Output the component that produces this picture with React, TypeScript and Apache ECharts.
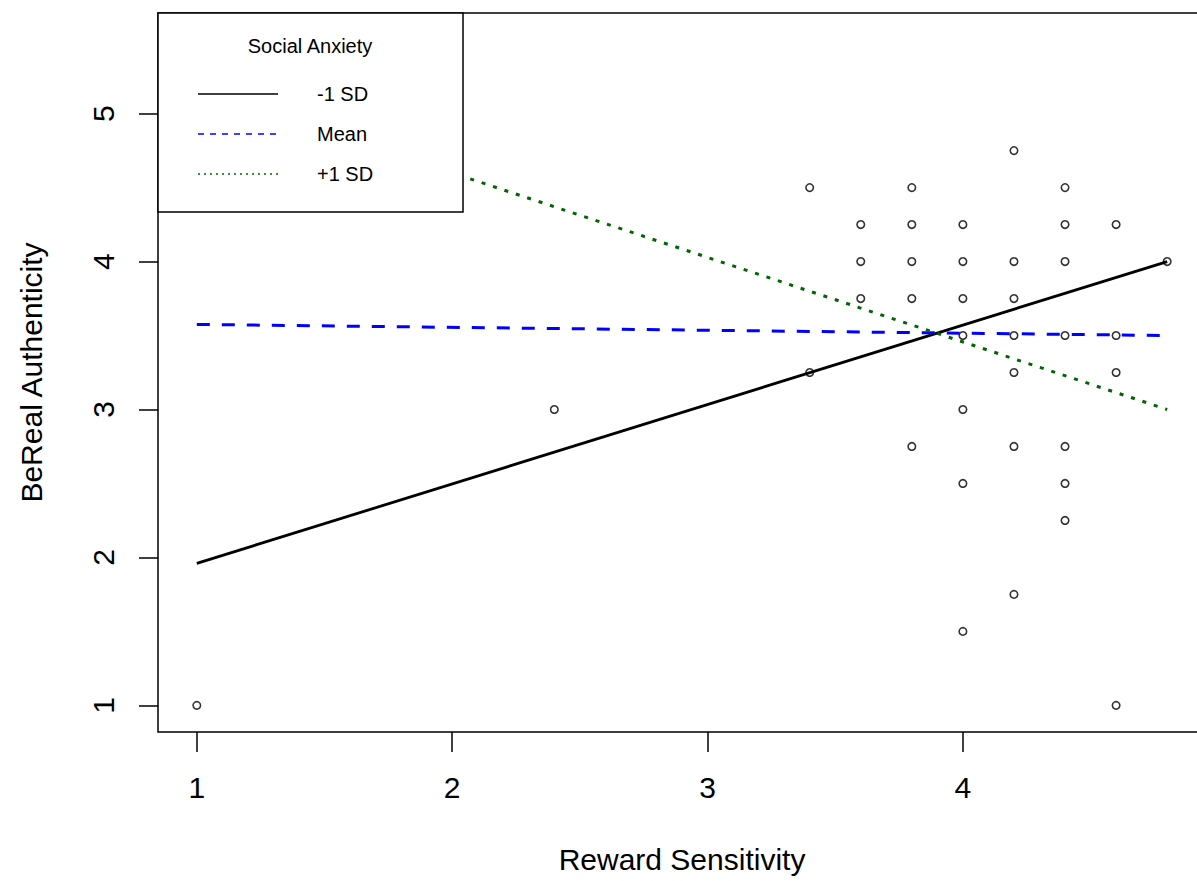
import React, { useEffect, useRef } from "react";
import * as echarts from "echarts";

const xTicks = [1, 2, 3, 4];
const yTicks = [1, 2, 3, 4, 5];

const rewardX = [1, 2.4, 3.4, 3.4, 3.6, 3.6, 3.6, 3.8, 3.8, 3.8, 3.8, 3.8, 4, 4, 4, 4, 4, 4, 4, 4.2, 4.2, 4.2, 4.2, 4.2, 4.2, 4.2, 4.4, 4.4, 4.4, 4.4, 4.4, 4.4, 4.4, 4.6, 4.6, 4.6, 4.6, 4.8];
const authY = [1, 3, 4.5, 3.25, 4.25, 4, 3.75, 4.5, 4.25, 4, 3.75, 2.75, 4.25, 4, 3.75, 3.5, 3, 2.5, 1.5, 4.75, 4, 3.75, 3.5, 3.25, 2.75, 1.75, 4.5, 4.25, 4, 3.5, 2.75, 2.5, 2.25, 4.25, 3.5, 3.25, 1, 4];

const lineX = [1, 4.8];
const lowSD = [1.96, 4.0];
const meanSD = [3.575, 3.5];
const highSD = [5.17, 3.0];

const legendTitle = "Social Anxiety";
const legendLabels = ["-1 SD", "Mean", "+1 SD"];

const FONT = "'Liberation Sans', Arial, sans-serif";

export default function App() {
  const ref = useRef<HTMLDivElement>(null);
  useEffect(() => {
    if (!ref.current) return;
    const chart = echarts.init(ref.current, null, { renderer: "svg" });
    const pts = rewardX.map((x, i) => [x, authY[i]]);
    const mk = (ys: number[]) => lineX.map((x, i) => [x, ys[i]]);
    const legendStyles = [
      { stroke: "#000", lineWidth: 1.5 },
      { stroke: "#0000ff", lineWidth: 1.5, lineDash: [6, 6] },
      { stroke: "#006400", lineWidth: 1.5, lineDash: [2, 4] },
    ];
    const legendYs = [94, 134, 174];
    const graphics: any[] = [
      {
        type: "rect",
        z: 100,
        shape: { x: 158, y: 13, width: 305, height: 199 },
        style: { fill: "#fff", stroke: "#000", lineWidth: 1.5 },
      },
      {
        type: "text",
        z: 101,
        x: 310,
        y: 46,
        style: {
          text: legendTitle,
          fontSize: 20,
          fontFamily: FONT,
          fill: "#000",
          textAlign: "center",
          textVerticalAlign: "middle",
        },
      },
    ];
    legendLabels.forEach((lab, i) => {
      graphics.push({
        type: "line",
        z: 101,
        shape: { x1: 198, y1: legendYs[i], x2: 278, y2: legendYs[i] },
        style: legendStyles[i],
      });
      graphics.push({
        type: "text",
        z: 101,
        x: 317,
        y: legendYs[i],
        style: {
          text: lab,
          fontSize: 20,
          fontFamily: FONT,
          fill: "#000",
          textAlign: "left",
          textVerticalAlign: "middle",
        },
      });
    });

    chart.setOption({
      animation: false,
      grid: {
        left: 158,
        right: 9,
        top: 13,
        bottom: 149,
        show: true,
        borderColor: "#000",
        borderWidth: 1.5,
        backgroundColor: "transparent",
      },
      xAxis: {
        type: "value",
        min: 0.848,
        max: 4.952,
        name: "Reward Sensitivity",
        nameLocation: "middle",
        nameGap: 112,
        nameTextStyle: { fontSize: 30, fontFamily: FONT, color: "#000" },
        axisLine: { show: false },
        splitLine: { show: false },
        axisTick: {
          show: true,
          length: 20,
          inside: false,
          customValues: xTicks,
          lineStyle: { color: "#000", width: 1.5 },
        },
        axisLabel: {
          customValues: xTicks,
          fontSize: 30,
          fontFamily: FONT,
          color: "#000",
          margin: 40,
        },
      },
      yAxis: {
        type: "value",
        min: 0.82,
        max: 5.68,
        name: "BeReal Authenticity",
        nameLocation: "middle",
        nameGap: 112,
        nameRotate: 90,
        nameTextStyle: { fontSize: 30, fontFamily: FONT, color: "#000" },
        axisLine: { show: false },
        splitLine: { show: false },
        axisTick: {
          show: true,
          length: 19,
          inside: false,
          customValues: yTicks,
          lineStyle: { color: "#000", width: 1.5 },
        },
        axisLabel: {
          customValues: yTicks,
          rotate: 90,
          fontSize: 30,
          fontFamily: FONT,
          color: "#000",
          margin: 40,
        },
      },
      series: [
        {
          type: "scatter",
          data: pts,
          symbol: "circle",
          symbolSize: 7.5,
          z: 2,
          itemStyle: { color: "#fff", borderColor: "#000", borderWidth: 1.6 },
          silent: true,
        },
        {
          type: "line",
          data: mk(lowSD),
          showSymbol: false,
          symbol: "none",
          z: 3,
          lineStyle: { color: "#000", width: 2.8, type: "solid" },
        },
        {
          type: "line",
          data: mk(meanSD),
          showSymbol: false,
          symbol: "none",
          z: 3,
          lineStyle: { color: "#0000ff", width: 3, type: [13, 12] },
        },
        {
          type: "line",
          data: mk(highSD),
          showSymbol: false,
          symbol: "none",
          z: 3,
          lineStyle: { color: "#006400", width: 3, type: [4, 8] },
        },
      ],
      graphic: graphics,
    });
    return () => chart.dispose();
  }, []);

  return (
    <div
      style={{
        position: "absolute",
        left: 0,
        top: 0,
        width: 1197,
        height: 881,
        overflow: "hidden",
        background: "#fff",
      }}
    >
      <div ref={ref} style={{ width: 1215, height: 881 }} />
    </div>
  );
}
